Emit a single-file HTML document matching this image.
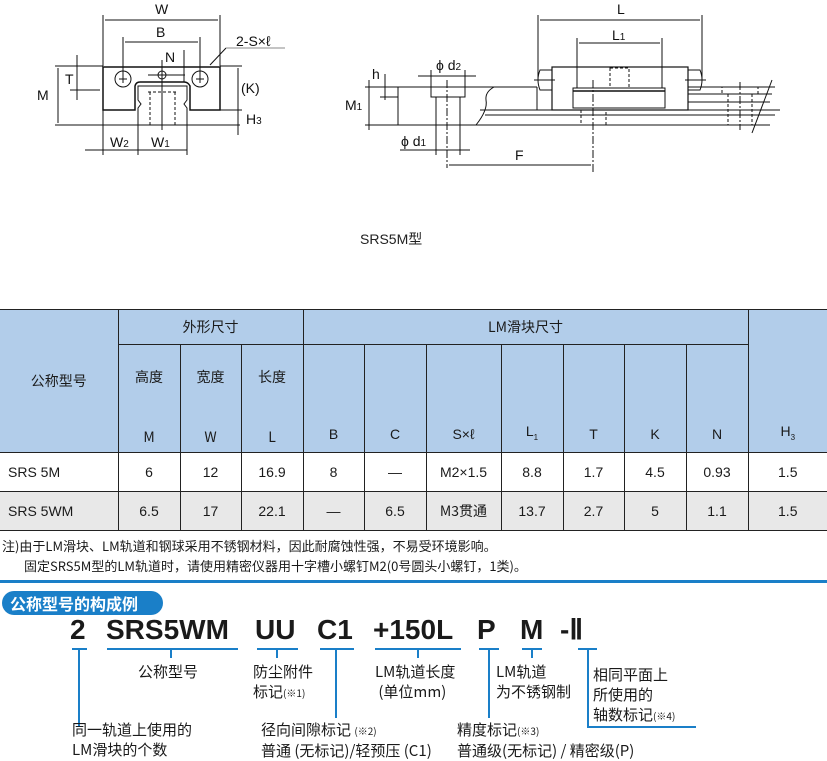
<!DOCTYPE html>
<html><head><meta charset="utf-8"><style>
body{margin:0;width:827px;height:761px;background:#fff;position:relative;overflow:hidden;font-family:"Liberation Sans","Noto Sans CJK SC",sans-serif;color:#1a1a1a}
.a{position:absolute;white-space:nowrap}
table{position:absolute;left:0;top:309px;border-collapse:collapse;font-size:14px}
td{border:1px solid #222;text-align:center;padding:0}
.h{background:#b2cdea}
.g{background:#e8e8e8}
.cj{font-family:"Noto Sans CJK SC",sans-serif}
.code{position:absolute;top:614px;font-size:28px;line-height:32px;font-weight:bold;color:#1a1a1a;font-family:"Liberation Sans",sans-serif}
.lb{position:absolute;font-size:15px;line-height:20px;white-space:nowrap}
.sm{font-size:10px}
</style></head><body>
<svg class="a" style="left:0;top:0" width="827" height="260" stroke="#111" fill="none" stroke-width="1" font-family="Liberation Sans" >
<g>
<line x1="103" y1="15" x2="103" y2="66"/><line x1="220" y1="15" x2="220" y2="66"/>
<line x1="105" y1="20" x2="218" y2="20"/>
<line x1="123" y1="37" x2="123" y2="80"/><line x1="200" y1="37" x2="200" y2="80"/>
<line x1="125" y1="42" x2="198" y2="42"/>
<path d="M103 67 H220 V110 H190 V86 Q188 82 184 82 H140 Q136 82 135 86 V110 H103 Z" stroke-width="1.5"/>
<path d="M138 86 H187 V100 L184 104 L187 108 V125 H138 V108 L141 104 L138 100 Z"/>
<line x1="150" y1="92" x2="150" y2="125" stroke-dasharray="3 2"/><line x1="175" y1="92" x2="175" y2="125" stroke-dasharray="3 2"/>
<line x1="148" y1="92" x2="177" y2="92" stroke-dasharray="3 2"/>
<circle cx="123" cy="79" r="8"/><circle cx="200" cy="79" r="8"/>
<path d="M119 79h8M123 75v8M196 79h8M200 75v8"/>
<circle cx="162" cy="75" r="4"/>
<line x1="162" y1="60" x2="162" y2="130"/>
<line x1="148" y1="75" x2="185" y2="75"/>
<line x1="184" y1="50" x2="184" y2="82"/>
<line x1="210" y1="65" x2="226" y2="48"/><line x1="226" y1="48" x2="285" y2="48" stroke="#888"/>
<line x1="55" y1="66" x2="103" y2="66"/><line x1="55" y1="125" x2="240" y2="125"/>
<line x1="58" y1="68" x2="58" y2="123"/>
<line x1="77" y1="55" x2="77" y2="100"/><line x1="70" y1="90" x2="100" y2="90"/>
<line x1="220" y1="66" x2="242" y2="66"/><line x1="220" y1="110" x2="242" y2="110"/>
<line x1="238" y1="68" x2="238" y2="135"/>
<line x1="103" y1="110" x2="103" y2="155"/><line x1="138" y1="125" x2="138" y2="155"/><line x1="187" y1="125" x2="187" y2="155"/>
<line x1="85" y1="150" x2="187" y2="150"/>
</g>
<g fill="#111" stroke="none" font-size="14">
<text x="155" y="14">W</text><text x="156" y="37">B</text><text x="165" y="62">N</text>
<text x="236" y="46">2-S×ℓ</text><text x="37" y="100">M</text><text x="65" y="84">T</text>
<text x="241" y="93">(K)</text><text x="246" y="124">H<tspan font-size="10">3</tspan></text>
<text x="110" y="147">W<tspan font-size="10">2</tspan></text><text x="151" y="147">W<tspan font-size="10">1</tspan></text>
<text x="617" y="14">L</text><text x="612" y="40">L<tspan font-size="10">1</tspan></text>
<text x="436" y="70">ϕ d<tspan font-size="10">2</tspan></text><text x="401" y="146">ϕ d<tspan font-size="10">1</tspan></text>
<text x="345" y="110">M<tspan font-size="10">1</tspan></text><text x="372" y="79">h</text>
<text x="515" y="160">F</text>
</g>
<g>
<line x1="538" y1="15" x2="538" y2="80"/><line x1="702" y1="15" x2="702" y2="80"/>
<line x1="540" y1="20" x2="700" y2="20"/>
<line x1="577" y1="38" x2="577" y2="68"/><line x1="662" y1="38" x2="662" y2="68"/>
<line x1="579" y1="43" x2="660" y2="43"/>
<line x1="398" y1="87" x2="398" y2="125"/>
<line x1="398" y1="87" x2="490" y2="87"/><line x1="398" y1="125" x2="770" y2="125"/>
<path d="M494 87 Q485 92 486 100 Q488 110 476 125"/>
<path d="M490 87 H537 M480 110 H780 M485 115 H775 M688 87 H775 M688 94 H772 M688 102 H770"/>
<line x1="537" y1="87" x2="537" y2="110"/>
<rect x="552" y="67" width="136" height="43" stroke-width="1.2"/>
<path d="M577 67 H662 V88 H577 Z M573 88 H665 V108 H573 Z"/>
<line x1="573" y1="91" x2="665" y2="91" stroke-width="1.5"/>
<path d="M540 70 Q536 80 540 90 H552 V70 Z M688 70 H700 Q704 80 700 90 H688"/>
<line x1="534" y1="80" x2="555" y2="80"/><line x1="685" y1="80" x2="706" y2="80"/>
<rect x="610" y="68" width="19" height="20" stroke-dasharray="3 2"/>
<rect x="431" y="87" width="34" height="10"/>
<line x1="436" y1="97" x2="436" y2="125"/><line x1="460" y1="97" x2="460" y2="125"/>
<line x1="447" y1="80" x2="447" y2="168" stroke-dasharray="8 2 2 2"/>
<line x1="593" y1="80" x2="593" y2="172" stroke-dasharray="8 2 2 2"/>
<path d="M581 110 V125 H606 V110" stroke-dasharray="3 2"/>
<path d="M722 87 H758 V94 H722 Z M728 94 V125 M752 94 V125" stroke-dasharray="3 2"/>
<line x1="740" y1="82" x2="740" y2="130" stroke-dasharray="8 2 2 2"/>
<line x1="772" y1="80" x2="752" y2="133"/>
<line x1="418" y1="76" x2="476" y2="76"/><line x1="431" y1="70" x2="431" y2="87"/><line x1="465" y1="70" x2="465" y2="87"/>
<line x1="400" y1="150" x2="470" y2="150"/><line x1="436" y1="125" x2="436" y2="155"/><line x1="460" y1="125" x2="460" y2="155"/>
<line x1="449" y1="165" x2="591" y2="165"/>
<line x1="365" y1="87" x2="398" y2="87"/><line x1="365" y1="125" x2="398" y2="125"/>
<line x1="369" y1="80" x2="369" y2="130"/>
<line x1="385" y1="74" x2="385" y2="100"/><line x1="380" y1="97" x2="398" y2="97"/>
</g>
<text x="360" y="244" fill="#222" stroke="none" font-size="14" font-family="Liberation Sans,Noto Sans CJK SC,sans-serif">SRS5M型</text>
</svg>

<table>
<colgroup><col style="width:118px"><col style="width:62px"><col style="width:61px"><col style="width:62px"><col style="width:61px"><col style="width:62px"><col style="width:75px"><col style="width:62px"><col style="width:61px"><col style="width:62px"><col style="width:62px"><col style="width:79px"></colgroup>
<tr class="h" style="height:35px"><td rowspan="2" class="cj" style="border-left:none">公称型号</td><td colspan="3" class="cj">外形尺寸</td><td colspan="7" class="cj">LM滑块尺寸</td><td rowspan="2" style="border-right:none;vertical-align:bottom;padding-bottom:10px">H<sub style="font-size:8px">3</sub></td></tr>
<tr class="h" style="height:108px">
<td class="cj" style="vertical-align:top"><div style="margin-top:22px">高度</div><div style="margin-top:40px">M</div></td>
<td class="cj" style="vertical-align:top"><div style="margin-top:22px">宽度</div><div style="margin-top:40px">W</div></td>
<td class="cj" style="vertical-align:top"><div style="margin-top:22px">长度</div><div style="margin-top:40px">L</div></td>
<td style="vertical-align:bottom;padding-bottom:10px">B</td><td style="vertical-align:bottom;padding-bottom:10px">C</td><td style="vertical-align:bottom;padding-bottom:10px">S×ℓ</td><td style="vertical-align:bottom;padding-bottom:10px">L<sub style="font-size:8px">1</sub></td><td style="vertical-align:bottom;padding-bottom:10px">T</td><td style="vertical-align:bottom;padding-bottom:10px">K</td><td style="vertical-align:bottom;padding-bottom:10px">N</td></tr>
<tr style="height:39px"><td style="text-align:left;padding-left:8px;border-left:none">SRS 5M</td><td>6</td><td>12</td><td>16.9</td><td>8</td><td>—</td><td>M2×1.5</td><td>8.8</td><td>1.7</td><td>4.5</td><td>0.93</td><td style="border-right:none">1.5</td></tr>
<tr class="g" style="height:39px"><td style="text-align:left;padding-left:8px;border-left:none">SRS 5WM</td><td>6.5</td><td>17</td><td>22.1</td><td>—</td><td>6.5</td><td class="cj">M3贯通</td><td>13.7</td><td>2.7</td><td>5</td><td>1.1</td><td style="border-right:none">1.5</td></tr>
</table>
<div class="a cj" style="left:2px;top:536px;font-size:13px">注)由于LM滑块、LM轨道和钢球采用不锈钢材料，因此耐腐蚀性强，不易受环境影响。</div>
<div class="a cj" style="left:24px;top:556px;font-size:13px">固定SRS5M型的LM轨道时，请使用精密仪器用十字槽小螺钉M2(0号圆头小螺钉，1类)。</div>
<div class="a" style="left:0;top:580px;width:827px;height:3px;background:#1a7fc8"></div>
<div class="a cj" style="left:2px;top:591px;width:161px;height:24px;border-radius:12px;background:#1a7fc8;color:#fff;font-size:16px;line-height:24px;text-indent:8px;font-weight:bold">公称型号的构成例</div>

<div class="code" style="left:70px">2</div>
<div class="code" style="left:106px">SRS5WM</div>
<div class="code" style="left:255px">UU</div>
<div class="code" style="left:317px">C1</div>
<div class="code" style="left:373px">+150L</div>
<div class="code" style="left:477px">P</div>
<div class="code" style="left:520px">M</div>
<div class="code" style="left:560px">-Ⅱ</div>

<svg class="a" style="left:0;top:640px" width="827" height="121" stroke="#1a7fc8" stroke-width="2" fill="none">
<path d="M72 9H87M107 9H238M257 9H298M320 9H354M375 9H461M479 9H499M522 9H542M578 9H597"/>
<path d="M171 9V18M277 9V18M418 9V18M532 9V18"/>
<path d="M79 9V87M336 9V78M489 9V78M588 9V87H696"/>
</svg>
<div class="lb cj" style="left:138px;top:662px">公称型号</div>
<div class="lb cj" style="left:253px;top:662px">防尘附件<br>标记<span class="sm">(※1)</span></div>
<div class="lb cj" style="left:375px;top:662px">LM轨道长度<br>&nbsp;(单位mm)</div>
<div class="lb cj" style="left:496px;top:662px">LM轨道<br>为不锈钢制</div>
<div class="lb cj" style="left:593px;top:665px">相同平面上<br>所使用的<br>轴数标记<span class="sm">(※4)</span></div>
<div class="lb cj" style="left:72px;top:720px">同一轨道上使用的<br>LM滑块的个数</div>
<div class="lb cj" style="left:261px;top:720px">径向间隙标记 <span class="sm">(※2)</span><br>普通 (无标记)/轻预压 (C1)</div>
<div class="lb cj" style="left:457px;top:720px">精度标记<span class="sm">(※3)</span><br>普通级(无标记) / 精密级(P)</div>
</body></html>
